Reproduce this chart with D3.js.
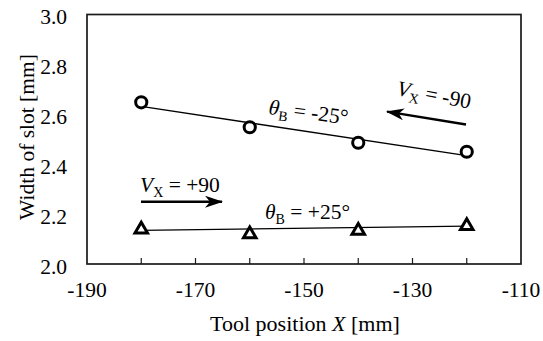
<!DOCTYPE html>
<html><head><meta charset="utf-8">
<script src="https://cdn.jsdelivr.net/npm/d3@7"></script>
</head><body style="margin:0;background:#fff"><svg id="c" width="543" height="341"></svg>
<script>
const positions = [-180, -160, -140, -120];
const widthNeg25 = [2.648, 2.548, 2.486, 2.450];
const widthPos25 = [2.146, 2.127, 2.141, 2.160];
const xTicks = [-190, -170, -150, -130, -110];
const xMinorTicks = [-180, -170, -160, -150, -140, -130, -120];
const yTicks = [2.0, 2.2, 2.4, 2.6, 2.8, 3.0];

const FONT = "Liberation Serif";
const FS = 21.5;
const svg = d3.select("#c");
const m = {l: 87, r: 521, t: 14.5, b: 264};
const x = d3.scaleLinear().domain([-190, -110]).range([m.l, m.r]);
const y = d3.scaleLinear().domain([2.0, 3.0]).range([m.b, m.t]);

function fit(xs, ys) {
  const mx = d3.mean(xs), my = d3.mean(ys);
  let num = 0, den = 0;
  xs.forEach((v, i) => { num += (v - mx) * (ys[i] - my); den += (v - mx) ** 2; });
  const s = num / den;
  return v => my + s * (v - mx);
}
function txt(sel, size) {
  return sel.append("text").attr("font-family", FONT).attr("font-size", size).attr("fill", "#000");
}

// frame
svg.append("rect").attr("x", m.l).attr("y", m.t).attr("width", m.r - m.l).attr("height", m.b - m.t)
  .attr("fill", "none").attr("stroke", "#1a1a1a").attr("stroke-width", 1.7);

// x ticks (inside)
svg.append("g").selectAll("line").data(xMinorTicks).join("line")
  .attr("x1", d => x(d)).attr("x2", d => x(d)).attr("y1", m.b).attr("y2", m.b - 6)
  .attr("stroke", "#1a1a1a").attr("stroke-width", 1.2);

xTicks.forEach(d => txt(svg, FS).attr("x", x(d)).attr("y", 297).attr("text-anchor", "middle").text(d));
yTicks.forEach(d => txt(svg, FS).attr("x", 67).attr("y", y(d) + 9.5).attr("text-anchor", "end").text(d.toFixed(1)));

// axis titles
const xt = txt(svg, 22).attr("x", 305).attr("y", 331).attr("text-anchor", "middle");
xt.append("tspan").text("Tool position ");
xt.append("tspan").attr("font-style", "italic").text("X");
xt.append("tspan").text(" [mm]");
txt(svg, FS).attr("transform", "translate(34,137) rotate(-90)").attr("text-anchor", "middle").text("Width of slot [mm]");

// trend lines
const line = d3.line().x(d => x(d[0])).y(d => y(d[1]));
[widthNeg25, widthPos25].forEach(vals => {
  const f = fit(positions, vals);
  const ends = [positions[0], positions[positions.length - 1]];
  svg.append("path").attr("d", line(ends.map(v => [v, f(v)])))
    .attr("fill", "none").attr("stroke", "#000").attr("stroke-width", 1.3);
});

// markers
svg.append("g").selectAll("circle").data(positions).join("circle")
  .attr("cx", d => x(d)).attr("cy", (d, i) => y(widthNeg25[i])).attr("r", 5.6)
  .attr("fill", "#fff").attr("stroke", "#000").attr("stroke-width", 3);
const triSize = 68;
const triH = Math.sqrt(triSize * 4 / Math.sqrt(3)) * Math.sqrt(3) / 2;
const tri = d3.symbol().type(d3.symbolTriangle).size(triSize);
svg.append("g").selectAll("path").data(positions).join("path")
  .attr("d", tri)
  .attr("transform", (d, i) => `translate(${x(d)},${y(widthPos25[i]) + triH / 6})`)
  .attr("fill", "#fff").attr("stroke", "#000").attr("stroke-width", 3).attr("stroke-linejoin", "miter");

// arrows
const defs = svg.append("defs");
defs.append("marker").attr("id", "ah").attr("viewBox", "0 0 18 12").attr("refX", 17).attr("refY", 6)
  .attr("markerWidth", 18).attr("markerHeight", 12).attr("markerUnits", "userSpaceOnUse").attr("orient", "auto")
  .append("path").attr("d", "M0,0 L18,6 L0,12 L5,6 Z").attr("fill", "#000");

svg.append("line").attr("x1", 141).attr("y1", 201.7).attr("x2", 222).attr("y2", 201.7)
  .attr("stroke", "#000").attr("stroke-width", 2.4).attr("marker-end", "url(#ah)");
svg.append("line").attr("x1", 466).attr("y1", 124.5).attr("x2", 387).attr("y2", 111.6)
  .attr("stroke", "#000").attr("stroke-width", 2.4).attr("marker-end", "url(#ah)");

// labels
function vlabel(g, sign) {
  const t = txt(g, FS);
  t.append("tspan").attr("font-style", "italic").text("V");
  t.append("tspan").attr("font-size", 14).attr("dy", 5).text("X");
  t.append("tspan").attr("dy", -5).text(" = " + sign + "90");
  return t;
}
function tlabel(g, s) {
  const t = txt(g, FS);
  t.append("tspan").attr("font-style", "italic").text("θ");
  t.append("tspan").attr("font-size", 14).attr("dy", 5).text("B");
  t.append("tspan").attr("dy", -5).text(" = " + s + "25°");
  return t;
}
vlabel(svg.append("g").attr("transform", "translate(140,191.5)"), "+");
tlabel(svg.append("g").attr("transform", "translate(265,219)"), "+");
tlabel(svg.append("g").attr("transform", "translate(268,114) rotate(7.5)"), "-");
vlabel(svg.append("g").attr("transform", "translate(396,95) rotate(10.5)"), "-");
</script></body></html>
